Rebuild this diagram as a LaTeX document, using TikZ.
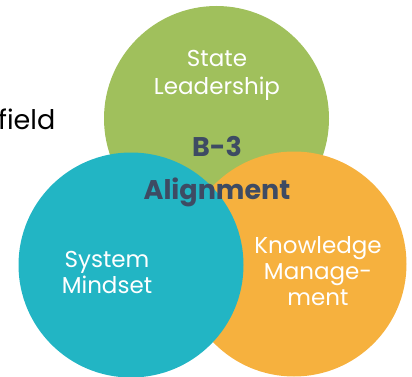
\documentclass[tikz,border=0pt]{standalone}
\usepackage{fontspec}
\setmainfont{Poppins}
\begin{document}
\begin{tikzpicture}[x=1pt,y=-1pt,
  blob/.style={circle,inner sep=0pt,minimum size=225pt,draw=none},
  wlabel/.style={text=white,font=\fontsize{23}{28}\selectfont,anchor=base,inner sep=0pt},
  dlabel/.style={text=darktxt,font=\fontsize{27}{30}\selectfont\bfseries,anchor=base,inner sep=0pt}]
\definecolor{cgreen}{HTML}{A0C05C}
\definecolor{cteal}{HTML}{22B5C4}
\definecolor{corange}{HTML}{F6B13E}
\definecolor{darktxt}{HTML}{3E4B63}
\useasboundingbox (0,0) rectangle (412,377);
\node[anchor=base west,inner sep=0pt,font=\fontsize{27}{30}\selectfont] (field) at (-2,130) {field};
\node[blob,fill=cgreen] (lead) at (216.5,118.5) {};
\node[blob,fill=corange] (know) at (294,264) {};
\node[blob,fill=cteal] (sys) at (131,265) {};
\node[wlabel] (state) at (217,67) {State};
\node[wlabel] (leadership) at (217,95) {Leadership};
\node[wlabel] (system) at (107,267) {System};
\node[wlabel] (mindset) at (107,293) {Mindset};
\node[wlabel] (knowledge) at (318,253) {Knowledge};
\node[wlabel] (manage) at (318,279) {Manage-};
\node[wlabel] (ment) at (318,305) {ment};
\node[dlabel] (b3) at (217,157) {B-3};
\node[dlabel] (align) at (217,199) {Alignment};
\end{tikzpicture}
\end{document}
